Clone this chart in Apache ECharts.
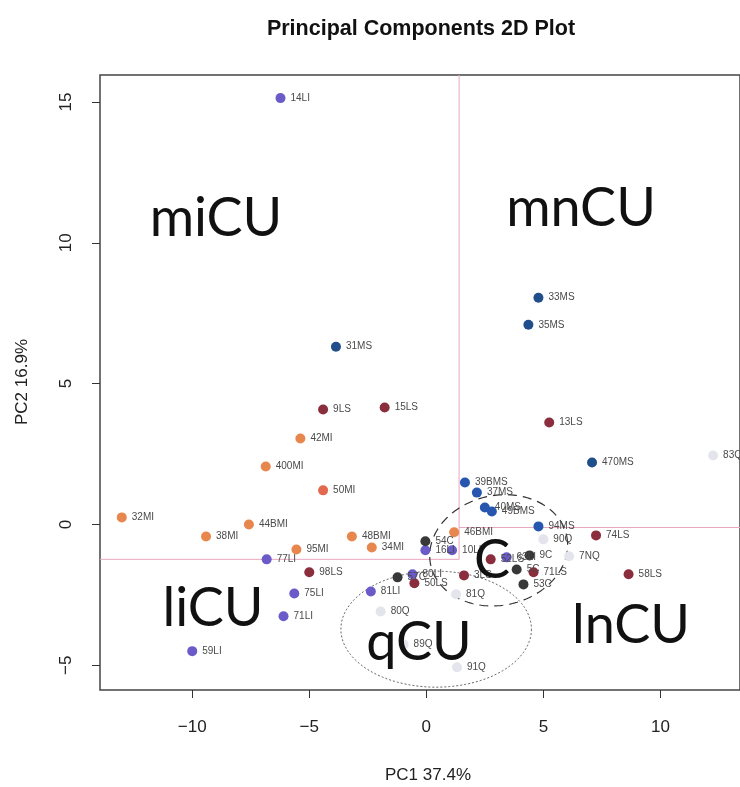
<!DOCTYPE html>
<html><head><meta charset="utf-8">
<script src="https://cdn.jsdelivr.net/npm/echarts@6/dist/echarts.min.js"></script>
<style>html,body{margin:0;background:#fff}#c{width:740px;height:787px}</style>
</head><body><div id="c"></div>
<script>
// axis ticks and ranges
const xTicks = [-10, -5, 0, 5, 10];
const yTicks = [-5, 0, 5, 10, 15];
const xRange = [-13.94, 13.4];
const yRange = [-5.88, 15.96];

// points: [PC1, PC2, label]
const liPoints = [
  [-6.23, 15.14, '14LI'], [-6.82, -1.24, '77LI'], [-5.64, -2.45, '75LI'],
  [-6.10, -3.26, '71LI'], [-10.0, -4.50, '59LI'], [-2.37, -2.38, '81LI'],
  [-0.04, -0.92, '16LI'], [1.10, -0.92, '10LI'], [-0.59, -1.77, '80LI'],
  [3.43, -1.17, '63LI']
];
const msPoints = [
  [-3.86, 6.31, '31MS'], [4.79, 8.05, '33MS'], [4.36, 7.09, '35MS'], [7.08, 2.20, '470MS']
];
const msbPoints = [
  [1.65, 1.49, '39BMS'], [2.16, 1.13, '37MS'], [2.50, 0.60, '40MS'],
  [2.80, 0.46, '49BMS'], [4.79, -0.07, '94MS']
];
const lsPoints = [
  [-4.41, 4.08, '9LS'], [-1.78, 4.15, '15LS'], [5.25, 3.62, '13LS'],
  [7.25, -0.39, '74LS'], [8.64, -1.77, '58LS'], [-5.00, -1.70, '98LS'],
  [-0.51, -2.09, '50LS'], [1.61, -1.81, '3LS'], [2.75, -1.24, '52LS'],
  [4.58, -1.70, '71LS']
];
const miPoints = [
  [-5.38, 3.05, '42MI'], [-6.86, 2.06, '400MI'], [-13.01, 0.25, '32MI'],
  [-9.41, -0.43, '38MI'], [-7.58, 0.00, '44BMI'], [-5.55, -0.89, '95MI'],
  [-3.18, -0.43, '48BMI'], [-2.33, -0.82, '34MI'], [1.19, -0.28, '46BMI']
];
const mirPoints = [[-4.41, 1.21, '50MI']];
const cPoints = [
  [-0.04, -0.60, '54C'], [-1.23, -1.88, '57C'], [3.86, -1.60, '5C'],
  [4.15, -2.13, '53C'], [4.41, -1.10, '9C']
];
const qPoints = [
  [-1.95, -3.09, '80Q'], [-0.97, -4.26, '89Q'], [1.31, -5.07, '91Q'],
  [1.27, -2.48, '81Q'], [5.00, -0.53, '90Q'], [12.25, 2.45, '83Q'],
  [6.10, -1.13, '7NQ']
];

// quadrant dividers
const divX = 1.40;
const divYLeft = -1.24;
const divYRight = -0.11;

// ellipses: [cx, cy, rx, ry] in data units
const ellipseC = [3.09, -0.92, 2.97, 1.95];
const ellipseQ = [0.42, -3.72, 4.07, 2.06];

const FONT = "'Liberation Sans', Arial, sans-serif";
const fmt = v => (v < 0 ? '\u2212' + Math.abs(v) : String(v));

function scatter(name, pts, color) {
  return {
    type: 'scatter', name, z: 5,
    symbolSize: 10,
    itemStyle: { color, opacity: 1 },
    data: pts.map(d => ({ value: [d[0], d[1]], name: d[2] })),
    label: { show: true, position: 'right', distance: 5, formatter: '{b}', fontSize: 10, color: '#4a4a4a', fontFamily: FONT }
  };
}

function ellipseSeries(params, rotDeg, style) {
  return {
    type: 'custom', coordinateSystem: 'cartesian2d', z: 4, silent: true,
    data: [params],
    renderItem: function (p, api) {
      const c = api.coord([api.value(0), api.value(1)]);
      const s = api.size([api.value(2), api.value(3)]);
      const th = rotDeg * Math.PI / 180;
      const pts = [];
      for (let i = 0; i <= 180; i++) {
        const t = i / 180 * 2 * Math.PI;
        const ex = s[0] * Math.cos(t), ey = s[1] * Math.sin(t);
        pts.push([c[0] + ex * Math.cos(th) - ey * Math.sin(th), c[1] + ex * Math.sin(th) + ey * Math.cos(th)]);
      }
      return { type: 'polyline', shape: { points: pts }, style: Object.assign({ fill: 'none' }, style) };
    }
  };
}

const bigText = (text, x, y) => ({
  type: 'text', x, y, z: 100,
  style: { text, font: "54px Lato, 'Open Sans', sans-serif", fill: '#111', align: 'center', verticalAlign: 'middle' }
});

const chart = echarts.init(document.getElementById('c'), null, { renderer: 'canvas' });
chart.setOption({
  animation: false,
  backgroundColor: '#fff',
  grid: { left: 100, top: 75, width: 645, height: 615, show: true, borderColor: '#444', borderWidth: 1.5, backgroundColor: 'transparent' },
  xAxis: {
    type: 'value', min: xRange[0], max: xRange[1],
    axisLine: { show: false, onZero: false }, splitLine: { show: false },
    axisTick: { show: true, customValues: xTicks, length: 8, lineStyle: { color: '#333', width: 1 } },
    axisLabel: { customValues: xTicks, formatter: fmt, fontSize: 17, color: '#222', margin: 29, fontFamily: FONT }
  },
  yAxis: {
    type: 'value', min: yRange[0], max: yRange[1],
    axisLine: { show: false, onZero: false }, splitLine: { show: false },
    axisTick: { show: true, customValues: yTicks, length: 8, lineStyle: { color: '#333', width: 1 } },
    axisLabel: { customValues: yTicks, formatter: fmt, fontSize: 17, color: '#222', margin: 25, rotate: 90, fontFamily: FONT }
  },
  series: [
    {
      type: 'line', z: 1, symbol: 'none', silent: true,
      lineStyle: { color: '#e9a6bf', width: 1 },
      data: [[divX, yRange[1]], [divX, divYLeft], [xRange[0], divYLeft]]
    },
    {
      type: 'line', z: 1, symbol: 'none', silent: true,
      lineStyle: { color: '#e9a6bf', width: 1 },
      data: [[divX, divYRight], [xRange[1], divYRight]]
    },
    ellipseSeries(ellipseC, -12, { stroke: '#333', lineWidth: 1.2, lineDash: [9, 6] }),
    ellipseSeries(ellipseQ, 0, { stroke: '#666', lineWidth: 1, lineDash: [2, 2] }),
    scatter('Q', qPoints, '#e4e4ec'),
    scatter('MI', miPoints, '#e8874d'),
    scatter('MIr', mirPoints, '#e2694f'),
    scatter('LS', lsPoints, '#8a2d3c'),
    scatter('MS', msPoints, '#1f4e8a'),
    scatter('MSb', msbPoints, '#2656b0'),
    scatter('LI', liPoints, '#6a5bc9'),
    scatter('C', cPoints, '#383838')
  ],
  graphic: [
    { type: 'text', x: 421, y: 29, z: 100, style: { text: 'Principal Components 2D Plot', font: "bold 21.5px " + FONT, fill: '#111', align: 'center', verticalAlign: 'middle' } },
    { type: 'text', x: 428, y: 775, z: 100, style: { text: 'PC1 37.4%', font: "17px " + FONT, fill: '#222', align: 'center', verticalAlign: 'middle' } },
    { type: 'text', x: 22, y: 382, z: 100, rotation: Math.PI / 2, style: { text: 'PC2 16.9%', font: "17px " + FONT, fill: '#222', align: 'center', verticalAlign: 'middle' } },
    bigText('miCU', 216, 219),
    bigText('mnCU', 581, 209),
    bigText('liCU', 213, 609),
    bigText('lnCU', 631, 626),
    bigText('qCU', 419, 643),
    bigText('C', 492, 561)
  ]
});
</script></body></html>
